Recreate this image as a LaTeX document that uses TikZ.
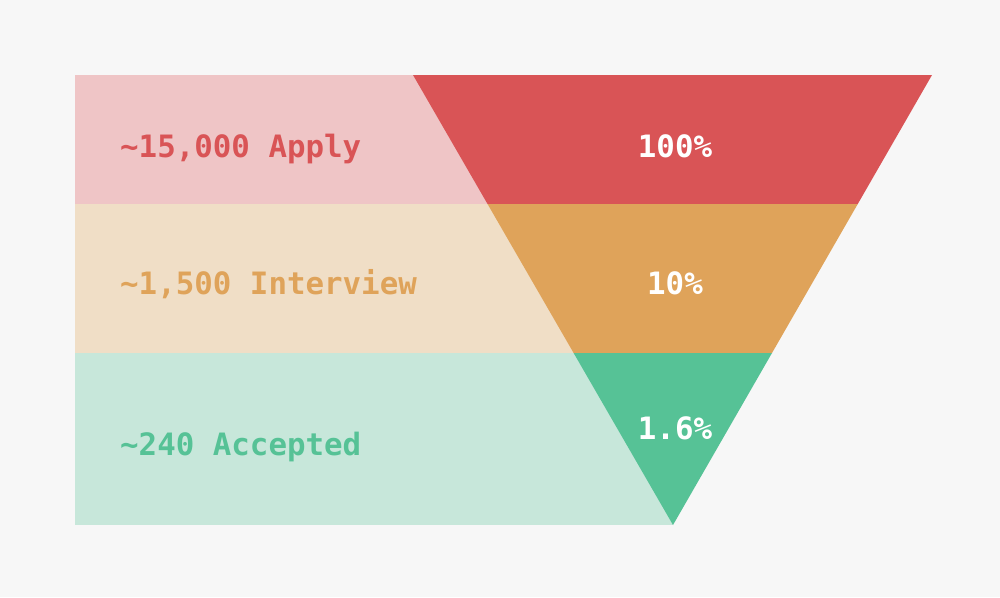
\documentclass[tikz,border=0pt]{standalone}
\usepackage{fontspec}
\setmonofont{DejaVu Sans Mono}
\usetikzlibrary{calc}

\definecolor{pagegray}{HTML}{F7F7F7}
\definecolor{applydark}{HTML}{D95456}
\definecolor{applylight}{HTML}{EFC5C6}
\definecolor{interdark}{HTML}{DFA35A}
\definecolor{interlight}{HTML}{F0DEC6}
\definecolor{acceptdark}{HTML}{56C296}
\definecolor{acceptlight}{HTML}{C7E7DA}

\tikzset{
  stagetext/.style={anchor=base west, inner sep=0pt, font=\fontsize{30.8}{36}\selectfont\ttfamily\bfseries},
  ratetext/.style={anchor=base, inner sep=0pt, text=white, font=\fontsize{30.8}{36}\selectfont\ttfamily\bfseries}
}

\begin{document}
\begin{tikzpicture}[x=1pt,y=-1pt]
            \fill[pagegray] (0,0) rectangle (1000,597);
            \useasboundingbox (0,0) rectangle (1000,597);
            % funnel corners
            \coordinate (tl) at (413,75);
            \coordinate (tr) at (932,75);
            \coordinate (apex) at (673,525);
            \coordinate (l1) at ($(tl)!0.2867!(apex)$);
            \coordinate (r1) at ($(tr)!0.2867!(apex)$);
            \coordinate (l2) at ($(tl)!0.6178!(apex)$);
            \coordinate (r2) at ($(tr)!0.6178!(apex)$);
            % light bands
            \fill[applylight] (75,75) rectangle (673,204);
            \fill[interlight] (75,204) rectangle (673,353);
            \fill[acceptlight] (75,353) rectangle (673,525);
            % funnel
            \fill[applydark] (tl)--(tr)--(r1)--(l1)--cycle;
            \fill[interdark] (l1)--(r1)--(r2)--(l2)--cycle;
            \fill[acceptdark] (l2)--(r2)--(apex)--cycle;
            % texts
            \node[stagetext, text=applydark] (apply) at (120,157) {\textasciitilde15,000 Apply};
            \node[stagetext, text=interdark] (interview) at (120,294) {\textasciitilde1,500 Interview};
            \node[stagetext, text=acceptdark] (accepted) at (120,455) {\textasciitilde240 Accepted};
            \node[ratetext] (rateapply) at (675,157) {100\%};
            \node[ratetext] (rateinterview) at (675,294) {10\%};
            \node[ratetext] (rateaccepted) at (675,439) {1.6\%};
        \end{tikzpicture}
\end{document}
